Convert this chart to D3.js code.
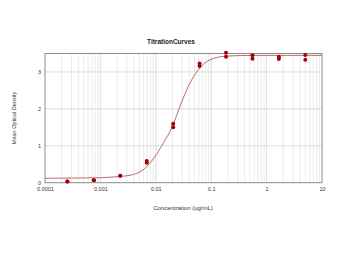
<!DOCTYPE html>
<html>
<head>
<meta charset="utf-8">
<script src="https://cdn.jsdelivr.net/npm/d3@7"></script>
<style>
  body { margin: 0; background: #fff; }
  text { font-family: "Liberation Sans", Arial, sans-serif; fill: #333; }
</style>
</head>
<body>
<svg id="chart" width="344" height="256"></svg>
<script>
// Data
var concentrations = [5, 1.667, 0.5556, 0.1852, 0.06173, 0.02058, 0.00686, 0.002286, 0.000762, 0.000254]
var replicate1 = [3.46, 3.41, 3.45, 3.52, 3.23, 1.6, 0.59, 0.19, 0.065, 0.035]
var replicate2 = [3.33, 3.35, 3.36, 3.41, 3.16, 1.5, 0.54, 0.19, 0.065, 0.035]

// fitted curve
var curveX = [0.0001, 0.0003, 0.001, 0.00224, 0.00342, 0.00638, 0.00968, 0.01365, 0.01985, 0.02735, 0.0386, 0.0585, 0.0951, 0.19, 0.6, 2, 10]
var curveY = [0.12, 0.125, 0.135, 0.17, 0.2, 0.39, 0.71, 1.07, 1.52, 2.07, 2.61, 3.06, 3.33, 3.43, 3.45, 3.45, 3.45]

var xTicks = [0.0001, 0.001, 0.01, 0.1, 1, 10]
var xTickLabels = ["0.0001", "0.001", "0.01", "0.1", "1", "10"]
var yTicks = [0, 1, 2, 3]

var plotLeft = 45, plotRight = 322, plotTop = 53.5, plotBottom = 182.7

var svg = d3.select("#chart")

var x = d3.scaleLog().domain([0.0001, 10]).range([plotLeft, plotRight])
var y = d3.scaleLinear().domain([0, 3.5]).range([plotBottom, plotTop])

// minor vertical grid
var minor = []
for (var e = -4; e < 1; e++) {
  for (var m = 2; m < 10; m++) minor.push(m * Math.pow(10, e))
}
svg.append("g").selectAll("line")
  .data(minor)
  .join("line")
  .attr("x1", d => x(d)).attr("x2", d => x(d))
  .attr("y1", plotTop).attr("y2", plotBottom)
  .attr("stroke", "#e6e6e6").attr("stroke-width", 0.8)

// major grid
svg.append("g").selectAll("line")
  .data(xTicks.slice(1, -1))
  .join("line")
  .attr("x1", d => x(d)).attr("x2", d => x(d))
  .attr("y1", plotTop).attr("y2", plotBottom)
  .attr("stroke", "#d4d4d4").attr("stroke-width", 0.8)

svg.append("g").selectAll("line")
  .data(yTicks.slice(1))
  .join("line")
  .attr("x1", plotLeft).attr("x2", plotRight)
  .attr("y1", d => y(d)).attr("y2", d => y(d))
  .attr("stroke", "#d4d4d4").attr("stroke-width", 0.8)

// frame
svg.append("rect")
  .attr("x", plotLeft).attr("y", plotTop)
  .attr("width", plotRight - plotLeft).attr("height", plotBottom - plotTop)
  .attr("fill", "none").attr("stroke", "#8c8c8c").attr("stroke-width", 1)

// axes
svg.append("g")
  .attr("transform", "translate(0," + plotBottom + ")")
  .call(d3.axisBottom(x).tickValues(xTicks).tickFormat((d, i) => xTickLabels[i]).tickSize(0).tickPadding(4))
svg.append("g")
  .attr("transform", "translate(" + plotLeft + ",0)")
  .call(d3.axisLeft(y).tickValues(yTicks).tickFormat(d3.format("d")).tickSize(0).tickPadding(4))
svg.selectAll(".domain").remove()
svg.selectAll(".tick text").attr("font-size", 5.5).attr("fill", "#444")
  .attr("font-family", "Liberation Sans, Arial, sans-serif")

// fitted curve
var line = d3.line()
  .x(d => x(d))
  .y((d, i) => y(curveY[i]))
  .curve(d3.curveMonotoneX)
svg.append("path")
  .datum(curveX)
  .attr("d", line)
  .attr("fill", "none")
  .attr("stroke", "#b85a5a")
  .attr("stroke-width", 0.9)

// points
var pts = []
concentrations.forEach(function(c, i) {
  pts.push([c, replicate1[i]])
  pts.push([c, replicate2[i]])
})
svg.append("g").selectAll("circle")
  .data(pts)
  .join("circle")
  .attr("cx", d => x(d[0]))
  .attr("cy", d => y(d[1]))
  .attr("r", 2)
  .attr("fill", "#a00010")

// titles
svg.append("text")
  .attr("x", 171).attr("y", 44)
  .attr("text-anchor", "middle")
  .attr("font-size", 6.5).attr("font-weight", "bold")
  .attr("fill", "#222").style("fill", "#222")
  .text("TitrationCurves")

svg.append("text")
  .attr("x", 183).attr("y", 210)
  .attr("text-anchor", "middle")
  .attr("font-size", 6)
  .text("Concentration (ug/mL)")

svg.append("text")
  .attr("transform", "translate(16,118) rotate(-90)")
  .attr("text-anchor", "middle")
  .attr("font-size", 5.5)
  .text("Mean Optical Density")
</script>
</body>
</html>
